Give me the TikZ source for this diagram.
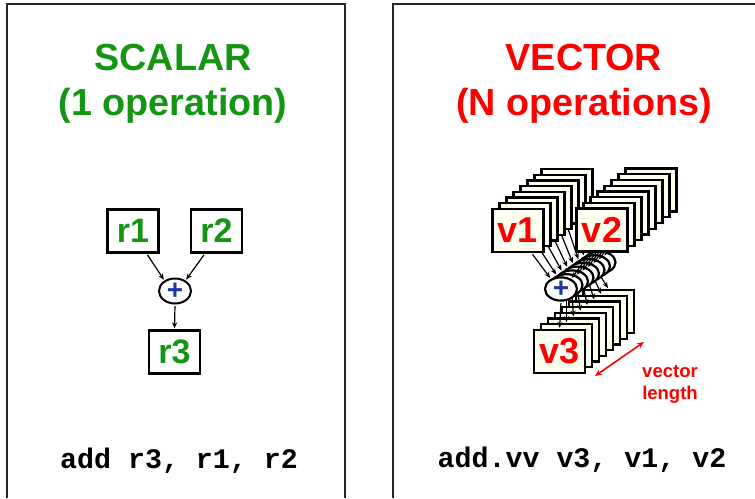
\documentclass[tikz,border=0pt]{standalone}
\usepackage{fontspec}
\setmainfont{Liberation Sans}
\newfontfamily\codefont{Liberation Mono}
\usetikzlibrary{shapes.geometric,arrows.meta,calc}
\definecolor{sgreen}{RGB}{20,150,20}
\definecolor{vred}{RGB}{255,0,0}
\definecolor{pblue}{RGB}{25,55,165}
\definecolor{cream}{RGB}{255,255,240}
\begin{document}
\begin{tikzpicture}[x=1pt,y=-1pt,
  panel/.style={draw=black!85,line width=2pt},
  title/.style={anchor=base,font=\fontsize{37.7}{40}\selectfont\bfseries},
  reg/.style={draw,line width=2.3pt,minimum width=51pt,minimum height=43pt,inner sep=0pt,font=\fontsize{34}{36}\selectfont\bfseries},
  sreg/.style={reg,fill=white,text=sgreen},
  vreg/.style={reg,fill=cream,text=vred,font=\fontsize{36}{38}\selectfont\bfseries},
  adder/.style={ellipse,draw,line width=2pt,minimum width=32pt,minimum height=25pt,inner sep=0pt,fill=white,text=pblue,font=\fontsize{28}{30}\selectfont\bfseries},
  vadder/.style={adder,minimum height=22pt,line width=2.2pt},
  arr/.style={-{Stealth[length=6pt,width=5pt]},line width=1.2pt,shorten <=1.5pt,shorten >=1pt},
  lenarr/.style={{Stealth[length=7pt,width=6pt]}-{Stealth[length=7pt,width=6pt]},line width=1.6pt,draw=vred},
  code/.style={anchor=base,font=\fontsize{28.3}{30}\selectfont\codefont\bfseries},
  small/.style={anchor=base,text=vred,font=\fontsize{18.5}{20}\selectfont\bfseries}]
\useasboundingbox (0,0) rectangle (755,498);
% panels
\draw[panel] (7,498) -- (7,4) -- (345,4) -- (345,498);
\draw[panel] (393,498) -- (393,4) -- (755,4);
% titles
\node[title,text=sgreen] (st1) at (173,70) {SCALAR};
\node[title,text=sgreen] (st2) at (173,115) {(1 operation)};
\node[title,text=vred] (vt1) at (584,70) {VECTOR};
\node[title,text=vred] (vt2) at (584,115) {(N operations)};
% scalar
\node[sreg] (r1) at (133,231) {r1};
\node[sreg] (r2) at (216.5,231) {r2};
\node[adder] (pl) at (175,291) {+};
\node[sreg] (r3) at (174.5,352) {r3};
\draw[arr] ([xshift=-13pt]r1.south east) -- (pl.135);
\draw[arr] ([xshift=15pt]r2.south west) -- (pl.45);
\draw[arr] (pl.south) -- (r3.north);
% vector
\foreach \i in {7,6,5,4,3,2,1,0} {
  \node[vreg] (v3-\i) at (559.5+7*\i,351.5-5.7*\i) {\ifnum\i=0 v3\fi};
  \node[vreg] (v1-\i) at (518+7*\i,230.5-5.7*\i) {\ifnum\i=0 v1\fi};
  \node[vreg] (v2-\i) at (602+7*\i,230-5.7*\i) {\ifnum\i=0 v2\fi};
  \node[vadder] (e-\i) at (561+5.5*\i,289-3.8*\i) {\ifnum\i=0 +\fi};
  \draw[arr] ([xshift=-13pt]v1-\i.south east) -- (e-\i.135);
  \draw[arr] ([xshift=15pt]v2-\i.south west) -- (e-\i.45);
  \draw[arr] (e-\i.south) -- (v3-\i.north);
}
\coordinate (vl1) at (595,376);
\coordinate (vl2) at (644,342);
\draw[lenarr] (vl1) -- (vl2);
\node[small] (vlab1) at (670,377) {vector};
\node[small] (vlab2) at (670,399) {length};
% code
\node[code] (c1) at (179,468) {add r3, r1, r2};
\node[code] (c2) at (582,467) {add.vv v3, v1, v2};
\end{tikzpicture}
\end{document}
